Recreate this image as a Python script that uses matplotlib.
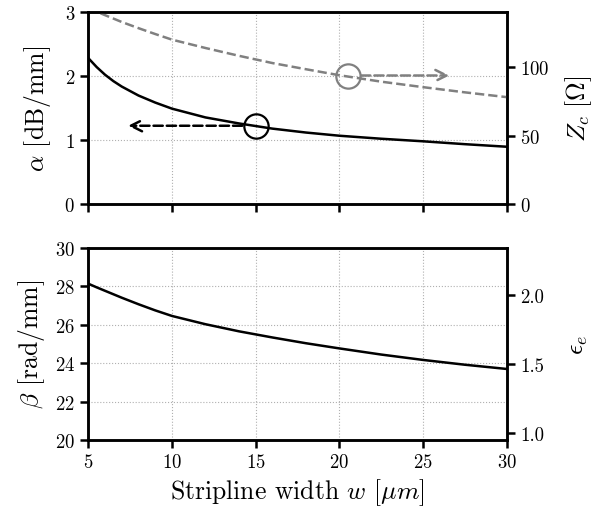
import matplotlib
matplotlib.use("Agg")
import matplotlib.pyplot as plt

plt.rcParams['font.family'] = 'serif'
plt.rcParams['font.serif'] = ['cmr10']
plt.rcParams['mathtext.fontset'] = 'cm'
plt.rcParams['axes.formatter.use_mathtext'] = True
plt.rcParams['axes.unicode_minus'] = False

# Data
width = [5, 5.5, 6, 6.5, 7, 8, 9, 10, 12, 14, 16, 18, 20, 22.5, 25, 27.5, 30]
alpha = [2.28, 2.14, 2.02, 1.92, 1.835, 1.695, 1.585, 1.49, 1.353, 1.259, 1.178, 1.117, 1.067, 1.02, 0.98, 0.935, 0.895]
zc = [143, 140.5, 138, 135.5, 133, 128.5, 124.2, 120.1, 114, 108.3, 103, 98.5, 94.1, 89.4, 85.4, 81.6, 78.1]
beta = [28.14, 27.95, 27.77, 27.59, 27.41, 27.07, 26.75, 26.46, 26.03, 25.66, 25.34, 25.04, 24.77, 24.45, 24.17, 23.92, 23.70]

xticks = [5, 10, 15, 20, 25, 30]
alpha_ticks = [0, 1, 2, 3]
zc_ticks = [0, 50, 100]
beta_ticks = [20, 22, 24, 26, 28, 30]
eps_ticks = [1.0, 1.5, 2.0]
eps_labels = ['1.0', '1.5', '2.0']

# annotation markers (circle positions and arrow ends)
alpha_mark = (15.0, 1.223)
alpha_arrow = (14.2, 7.38)
zc_mark = (20.5, 93.9)
zc_arrow = (21.3, 26.57)

LW = 1.8
TICK = 13.5
LAB = 18.5

fig = plt.figure(figsize=(5.99, 5.10), dpi=100)
ax1 = fig.add_axes([0.1474, 0.598, 0.6985, 0.3765])
ax2 = fig.add_axes([0.1474, 0.1353, 0.6985, 0.3765])

def style(ax):
    for s in ax.spines.values():
        s.set_linewidth(LW)
    ax.tick_params(direction='out', length=6, width=LW, labelsize=TICK, top=False)

# Top panel
ax1.plot(width, alpha, color='black', lw=LW)
ax1.set_xlim(5, 30)
ax1.set_ylim(0, 3)
ax1.set_yticks(alpha_ticks)
ax1.set_xticks(xticks)
ax1.set_xticklabels([])
ax1.grid(True, color='#b0b0b0', ls=':', lw=0.8)
ax1.set_ylabel(r'$\alpha$ [dB/mm]', fontsize=LAB, labelpad=8)
style(ax1)
ax1.plot([alpha_mark[0]], [alpha_mark[1]], 'o', ms=17.5, mfc='none', mec='black', mew=1.6, zorder=5)
ax1.annotate('', xy=(alpha_arrow[1], alpha_mark[1]), xytext=(alpha_arrow[0], alpha_mark[1]),
             arrowprops=dict(arrowstyle='->', color='black', lw=LW, ls='--', mutation_scale=20,
                             shrinkA=0, shrinkB=0))

ax1r = ax1.twinx()
ax1r.plot(width, zc, color='gray', lw=LW, ls='--')
ax1r.set_ylim(0, 140.3)
ax1r.set_yticks(zc_ticks)
ax1r.set_ylabel(r'$Z_c\ [\Omega]$', fontsize=LAB, labelpad=10)
style(ax1r)
ax1r.plot([zc_mark[0]], [zc_mark[1]], 'o', ms=17.5, mfc='none', mec='gray', mew=1.6, zorder=5)
ax1r.annotate('', xy=(zc_arrow[1], zc_mark[1]), xytext=(zc_arrow[0], zc_mark[1]),
              arrowprops=dict(arrowstyle='->', color='gray', lw=LW, ls='--', mutation_scale=20,
                              shrinkA=0, shrinkB=0))

# Bottom panel
ax2.plot(width, beta, color='black', lw=LW)
ax2.set_xlim(5, 30)
ax2.set_ylim(20, 30)
ax2.set_yticks(beta_ticks)
ax2.set_xticks(xticks)
ax2.grid(True, color='#b0b0b0', ls=':', lw=0.8)
ax2.set_ylabel(r'$\beta$ [rad/mm]', fontsize=LAB, labelpad=6)
ax2.set_xlabel(r'Stripline width $w$ $[\mu m]$', fontsize=LAB)
style(ax2)

ax2r = ax2.twinx()
ax2r.set_ylim(0.951, 2.344)
ax2r.set_yticks(eps_ticks)
ax2r.set_yticklabels(eps_labels)
ax2r.set_ylabel(r'$\epsilon_e$', fontsize=LAB, labelpad=16)
style(ax2r)

fig.savefig('out.png', dpi=100)
